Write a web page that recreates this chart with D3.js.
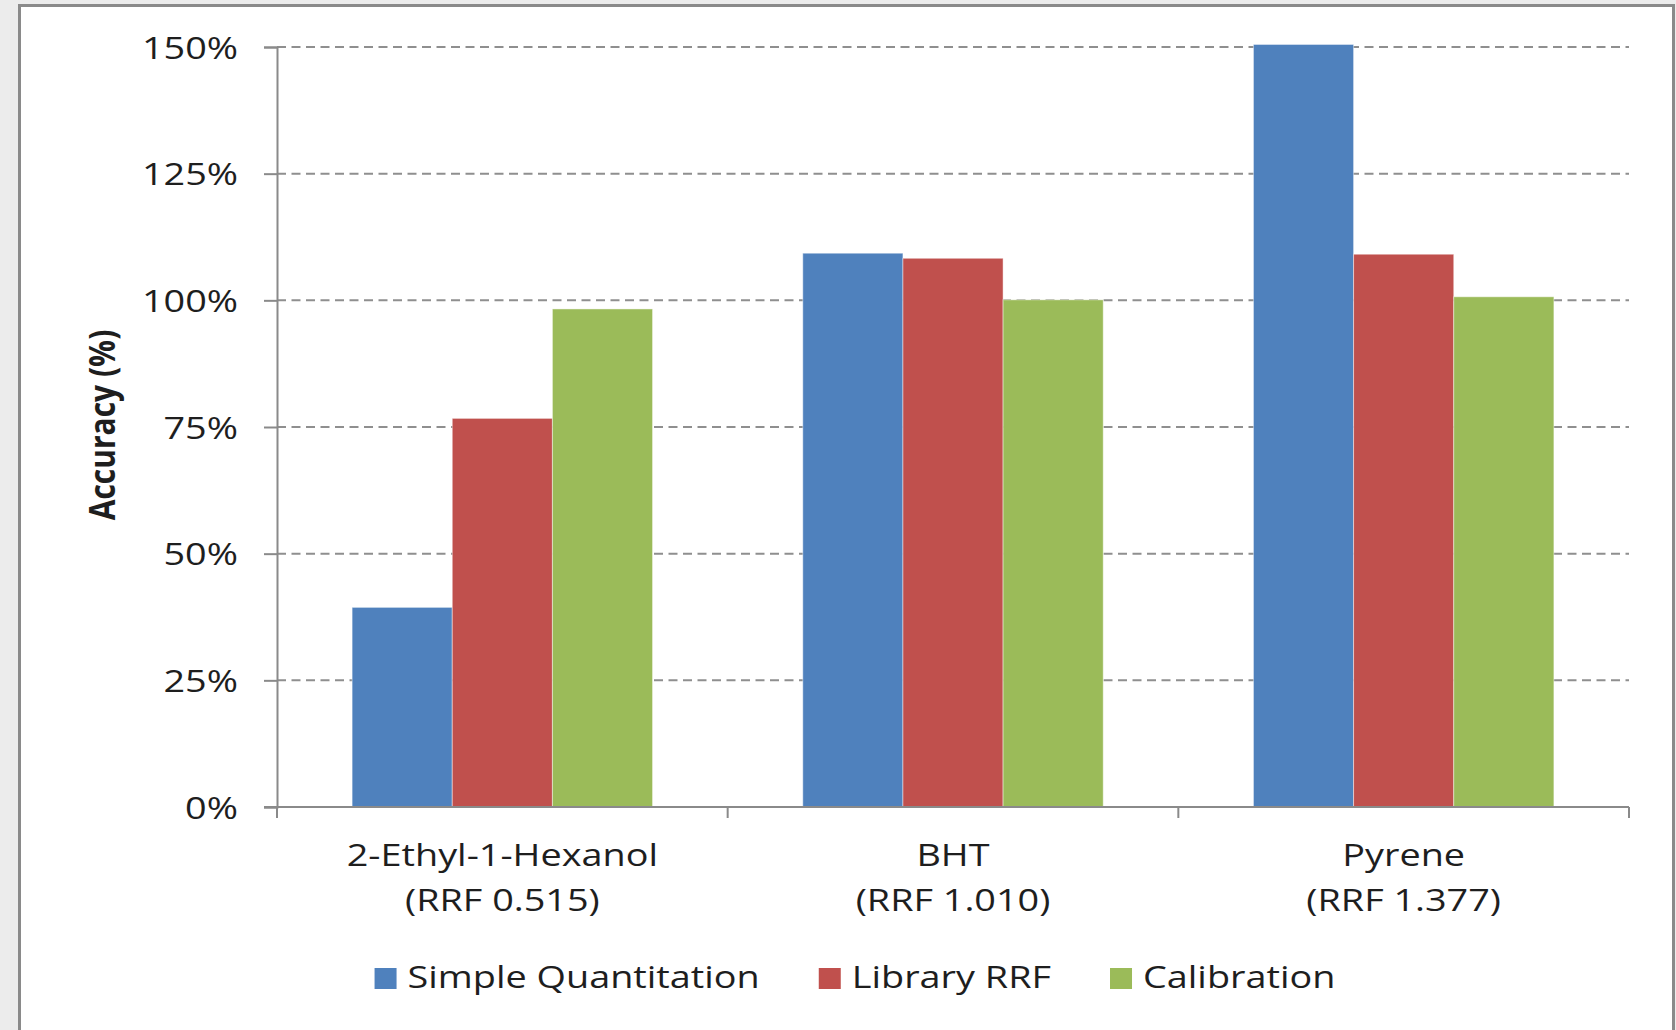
<!DOCTYPE html>
<html>
<head>
<meta charset="utf-8">
<script src="https://cdn.jsdelivr.net/npm/d3@7"></script>
<style>
  body { margin: 0; background: #ececec; }
  svg { display: block; }
  text { font-family: "Open Sans", sans-serif; fill: #1e1e1e; }
</style>
</head>
<body>
<div id="chart"></div>
<script>
// data
const categories = ["2-Ethyl-1-Hexanol", "BHT", "Pyrene"];
const rrfLabels = ["(RRF 0.515)", "(RRF 1.010)", "(RRF 1.377)"];
const seriesNames = ["Simple Quantitation", "Library RRF", "Calibration"];
const simpleQuant = [39.4, 109.3, 150.5];
const libraryRRF = [76.7, 108.3, 109.1];
const calibration = [98.3, 100.1, 100.7];
const yTicks = [0, 25, 50, 75, 100, 125, 150];
const colors = ["#4f81bd", "#c0504d", "#9bbb59"];

const width = 1676, height = 1030;
const margin = {left: 277, right: 47, top: 47, bottom: 223};
const stretch = 1.22; // text looks horizontally stretched in the original

let svg = d3.select("#chart")
    .append("svg")
    .attr("width", width)
    .attr("height", height);

// panel
svg.append("rect")
    .attr("width", width).attr("height", height)
    .attr("fill", "#ececec");
svg.append("rect")
    .attr("x", 19.5).attr("y", 5.5)
    .attr("width", 1654).attr("height", 1060)
    .attr("fill", "#fff")
    .attr("stroke", "#8a8a8a")
    .attr("stroke-width", 3);

// scales
let x = d3.scaleBand()
    .domain(categories)
    .range([margin.left, width - margin.right]);

let xSub = d3.scaleBand()
    .domain(seriesNames)
    .range([0, x.bandwidth()])
    .paddingOuter(0.75);

let y = d3.scaleLinear()
    .domain([0, 150])
    .range([height - margin.bottom, margin.top]);

// gridlines
svg.append("g")
    .selectAll("line")
    .data(yTicks.filter(d => d > 0))
    .enter()
    .append("line")
        .attr("x1", margin.left)
        .attr("x2", width - margin.right)
        .attr("y1", d => y(d))
        .attr("y2", d => y(d))
        .attr("stroke", "#8f8f8f")
        .attr("stroke-width", 2)
        .attr("stroke-dasharray", "9,5.5");

// y axis
let yAxis = svg.append("g")
    .attr("transform", `translate(${margin.left},0)`)
    .call(d3.axisLeft(y).tickValues(yTicks).tickSize(13).tickPadding(26).tickFormat(d => d + "%"));
yAxis.select(".domain").attr("stroke", "#8a8a8a").attr("stroke-width", 2);
yAxis.selectAll(".tick line").attr("stroke", "#8a8a8a").attr("stroke-width", 2);
yAxis.selectAll(".tick text")
    .attr("x", 0)
    .attr("dy", "0.36em")
    .attr("transform", `translate(-39,0) scale(${stretch},1)`)
    .style("font-size", "31px")
    .style("font-family", "'Open Sans', sans-serif")
    .attr("fill", "#1e1e1e");

// bars
const table = categories.map((c, i) => ({
    cat: c,
    vals: [simpleQuant[i], libraryRRF[i], calibration[i]]
}));

svg.append("g")
    .selectAll("g")
    .data(table)
    .enter()
    .append("g")
        .attr("transform", d => `translate(${x(d.cat)},0)`)
    .selectAll("rect")
    .data(d => d.vals.map((v, j) => ({name: seriesNames[j], v: v, j: j})))
    .enter()
    .append("rect")
        .attr("x", d => xSub(d.name))
        .attr("width", xSub.bandwidth())
        .attr("y", d => y(d.v))
        .attr("height", d => y(0) - y(d.v))
        .attr("fill", d => colors[d.j])
        .attr("stroke", "#fff")
        .attr("stroke-opacity", 0.45)
        .attr("stroke-width", 1);

// x axis
let xAxis = svg.append("g")
    .attr("transform", `translate(0,${y(0)})`);
xAxis.append("line")
    .attr("x1", margin.left - 13)
    .attr("x2", width - margin.right)
    .attr("stroke", "#8a8a8a")
    .attr("stroke-width", 2);
const bounds = categories.map(c => x(c)).concat([x(categories[categories.length - 1]) + x.bandwidth()]);
xAxis.selectAll(".bound")
    .data(bounds)
    .enter()
    .append("line")
        .attr("class", "bound")
        .attr("x1", d => d).attr("x2", d => d)
        .attr("y1", 0).attr("y2", 11)
        .attr("stroke", "#8a8a8a")
        .attr("stroke-width", 2);

let labels = svg.append("g")
    .selectAll("g")
    .data(categories)
    .enter()
    .append("g")
        .attr("transform", d => `translate(${x(d) + x.bandwidth() / 2},0)`);
labels.append("text")
    .attr("text-anchor", "middle")
    .attr("transform", `translate(0,866) scale(${stretch},1)`)
    .style("font-size", "31px")
    .text(d => d);
labels.append("text")
    .attr("text-anchor", "middle")
    .attr("transform", `translate(0,911) scale(${stretch},1)`)
    .style("font-size", "31px")
    .text((d, i) => rrfLabels[i]);

// y title
svg.append("text")
    .attr("text-anchor", "middle")
    .attr("transform", `translate(115,425) scale(1.2,1) rotate(-90)`)
    .style("font-size", "30px")
    .style("font-weight", "bold")
    .attr("fill", "#000")
    .text("Accuracy (%)");

// legend
let legend = svg.append("g");
let items = legend.selectAll("g")
    .data(seriesNames)
    .enter()
    .append("g");
items.append("rect")
    .attr("y", 968)
    .attr("width", 22)
    .attr("height", 21)
    .attr("fill", (d, i) => colors[i]);
items.append("text")
    .attr("transform", `translate(33,988) scale(${stretch},1)`)
    .style("font-size", "31px")
    .text(d => d);

let cursor = 0;
let offsets = [];
items.each(function() {
    offsets.push(cursor);
    let w = d3.select(this).select("text").node().getComputedTextLength() * stretch;
    cursor += 33 + w + 59;
});
const total = cursor - 59;
const start = 855 - total / 2;
items.attr("transform", (d, i) => `translate(${start + offsets[i]},0)`);
</script>
</body>
</html>
